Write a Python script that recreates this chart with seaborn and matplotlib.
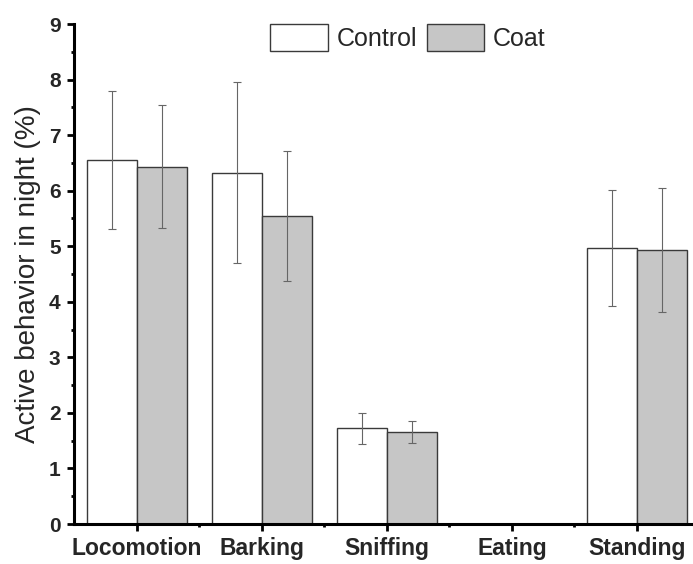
import numpy as np
import pandas as pd
import matplotlib
matplotlib.use("Agg")
import matplotlib.pyplot as plt
from matplotlib.ticker import MultipleLocator, FixedLocator
import seaborn as sns

categories = ["Locomotion", "Barking", "Sniffing", "Eating", "Standing"]
groups = ["Control", "Coat"]
control_mean = [6.55, 6.32, 1.72, 0.0, 4.96]
coat_mean = [6.43, 5.54, 1.66, 0.0, 4.94]
control_low = [5.31, 4.70, 1.44, np.nan, 3.92]
control_high = [7.80, 7.95, 1.99, np.nan, 6.02]
coat_low = [5.32, 4.38, 1.45, np.nan, 3.82]
coat_high = [7.55, 6.71, 1.85, np.nan, 6.05]
y_ticks = [0, 1, 2, 3, 4, 5, 6, 7, 8, 9]

sns.set_theme(style="ticks")
plt.rcParams["font.family"] = ["Liberation Sans", "DejaVu Sans"]

df = pd.DataFrame({
    "Behavior": categories * 2,
    "Group": ["Control"] * len(categories) + ["Coat"] * len(categories),
    "Value": control_mean + coat_mean,
})

fig = plt.figure(figsize=(6.93, 5.64), dpi=100)
ax = fig.add_axes([0.1075, 0.0709, 0.8925, 0.8865])

sns.barplot(data=df, x="Behavior", y="Value", hue="Group", order=categories,
            hue_order=groups, palette={"Control": "white", "Coat": "#c6c6c6"},
            edgecolor="#3a3a3a", linewidth=1.0, width=0.8, errorbar=None,
            ax=ax, legend=True)

lows = [control_low, coat_low]
highs = [control_high, coat_high]
means = [control_mean, coat_mean]
for cont, lo, hi, mu in zip(ax.containers, lows, highs, means):
    for bar, l, h, m in zip(cont.patches, lo, hi, mu):
        if np.isnan(l):
            continue
        xc = bar.get_x() + bar.get_width() / 2
        ax.errorbar([xc], [m], yerr=[[m - l], [h - m]], fmt="none",
                    ecolor="#666666", elinewidth=0.8, capsize=3, capthick=0.8,
                    zorder=5)

ax.set_xlim(-0.5, 4.448)
ax.set_ylim(0, 9)
ax.set_yticks(y_ticks)
ax.yaxis.set_minor_locator(MultipleLocator(0.5))
ax.xaxis.set_minor_locator(FixedLocator([0.5, 1.5, 2.5, 3.5]))

for s in ["top", "right"]:
    ax.spines[s].set_visible(False)
for s in ["left", "bottom"]:
    ax.spines[s].set_linewidth(2.2)
    ax.spines[s].set_color("black")

ax.tick_params(axis="both", which="major", direction="out", length=5, width=2,
               color="black")
ax.tick_params(axis="both", which="minor", direction="out", length=2.5, width=2,
               color="black")
ax.tick_params(axis="y", labelsize=15, pad=5)
ax.tick_params(axis="x", labelsize=16.5, pad=4)
for lab in ax.get_xticklabels() + ax.get_yticklabels():
    lab.set_fontweight("bold")

ax.set_xlabel("")
ax.set_ylabel("Active behavior in night (%)", fontsize=20, labelpad=6)

leg = ax.get_legend()
if leg is not None:
    leg.remove()
handles = [plt.Rectangle((0, 0), 1, 1, facecolor=c, edgecolor="#3a3a3a", linewidth=1.0)
           for c in ["white", "#c6c6c6"]]
fig.legend(handles, groups, loc="upper left", bbox_to_anchor=(270 / 693, 1 - 24 / 564),
           ncol=2, frameon=False, fontsize=18, handlelength=2.3, handleheight=1.3,
           handletextpad=0.35, columnspacing=0.4, borderpad=0, borderaxespad=0)

fig.savefig("out.png", dpi=100)
